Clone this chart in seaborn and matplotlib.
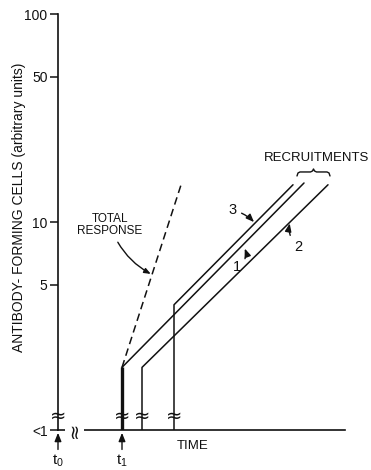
import numpy as np
import pandas as pd
import matplotlib
matplotlib.use("Agg")
import matplotlib.pyplot as plt
from matplotlib.ticker import NullLocator
import seaborn as sns

# --- data (time in arbitrary units, cells in arbitrary units) ---
t_zero = 0.0
t_one = 6.4
clones = ["1", "2", "3"]
clone_start_time = [6.4, 8.4, 11.6]
clone_start_level = [2.0, 2.0, 4.0]
clone_end_time = [24.6, 27.0, 23.5]
clone_end_level = [15.4, 15.1, 15.1]
total_time = [6.4, 12.4]
total_level = [2.0, 15.6]
baseline = 1.0
ytick_values = [1, 5, 10, 50, 100]
ytick_labels = ["<1", "5", "10", "50", "100"]

rows = []
for name, ts, ys, te, ye in zip(clones, clone_start_time, clone_start_level,
                                clone_end_time, clone_end_level):
    rows += [(name, ts, baseline), (name, ts, ys), (name, te, ye)]
clone_df = pd.DataFrame(rows, columns=["clone", "time", "cells"])
total_df = pd.DataFrame({"time": total_time, "cells": total_level})

sns.set_style("ticks")
plt.rcParams["font.family"] = ["Liberation Sans", "DejaVu Sans"]
plt.rcParams["mathtext.default"] = "regular"

fig = plt.figure(figsize=(3.71, 4.70), dpi=100)
ax = fig.add_axes([58 / 371, 40 / 470, 287 / 371, 416 / 470])

ink = "#111111"
sns.lineplot(data=clone_df, x="time", y="cells", units="clone", estimator=None,
             sort=False, color=ink, lw=1.1, ax=ax)
sns.lineplot(data=total_df, x="time", y="cells", sort=False, color=ink, lw=1.1,
             linestyle=(0, (5, 3)), ax=ax)
# the onset at t1 is drawn as a heavier double stroke
ax.plot([t_one, t_one], [baseline, clone_start_level[0]], color=ink, lw=2.4,
        solid_capstyle="butt")

ax.set_yscale("log")
ax.set_ylim(1, 100)
ax.set_xlim(0, 28.7)
ax.set_yticks(ytick_values)
ax.set_yticklabels(ytick_labels)
ax.yaxis.set_minor_locator(NullLocator())
ax.set_xticks([])
ax.tick_params(axis="y", direction="out", length=6, width=1.1, pad=1.5,
               labelsize=10, colors=ink)
for side in ("top", "right"):
    ax.spines[side].set_visible(False)
for side in ("left", "bottom"):
    ax.spines[side].set_linewidth(1.2)
    ax.spines[side].set_color(ink)

ax.set_ylabel("ANTIBODY- FORMING CELLS (arbitrary units)", fontsize=10, color=ink)
ax.yaxis.set_label_coords(-0.11, 0.536)
ax.set_xlabel("TIME", fontsize=9.5, color=ink)
ax.xaxis.set_label_coords(0.47, -0.025)

# axis breaks
break_level = 1.16
for t in [t_zero] + clone_start_time:
    ax.text(t, break_level, "≈", ha="center", va="center", fontsize=14,
            color=ink, family="DejaVu Sans")
ax.text(1.65, baseline, "≈", ha="center", va="center", fontsize=14, rotation=90,
        color=ink, family="DejaVu Sans",
        bbox=dict(facecolor="white", edgecolor="none", pad=0.0), zorder=5)

# time markers below the axis
for t, lab in [(t_zero, r"t$_0$"), (t_one, r"t$_1$")]:
    ax.annotate("", xy=(t, baseline), xytext=(0, -14), textcoords="offset points",
                xycoords="data", annotation_clip=False,
                arrowprops=dict(arrowstyle="-|>,head_length=0.5,head_width=0.2",
                                color=ink, lw=1.0, shrinkA=0, shrinkB=2))
    ax.annotate(lab, xy=(t, baseline), xytext=(0, -16), textcoords="offset points",
                ha="center", va="top", fontsize=11, color=ink,
                annotation_clip=False)

arrow = dict(arrowstyle="-|>,head_length=0.45,head_width=0.18", color=ink, lw=1.0,
             shrinkA=1, shrinkB=1)


def on_line(t0, y0, t1, y1, t):
    f = (t - t0) / (t1 - t0)
    return 10 ** (np.log10(y0) + f * (np.log10(y1) - np.log10(y0)))


# total response label
tt = 9.4
ax.annotate("TOTAL\nRESPONSE", xy=(tt, on_line(total_time[0], total_level[0],
                                                total_time[1], total_level[1], tt)),
            xytext=(5.2, 9.7), ha="center", va="center", fontsize=8.5,
            linespacing=0.95, color=ink,
            arrowprops=dict(arrow, connectionstyle="arc3,rad=0.2", shrinkA=2))

# clone labels
label_pos = {"1": (17.9, 6.1), "2": (24.0, 7.6), "3": (17.5, 11.4)}
label_at = {"1": 18.5, "2": 23.2, "3": 19.7}
label_rad = {"1": 0.5, "2": -0.3, "3": -0.15}
for i, name in enumerate(clones):
    t = label_at[name]
    yv = on_line(clone_start_time[i], clone_start_level[i],
                 clone_end_time[i], clone_end_level[i], t)
    ax.annotate(name, xy=(t, yv), xytext=label_pos[name], ha="center",
                va="center", fontsize=10.5, color=ink,
                arrowprops=dict(arrow, connectionstyle=f"arc3,rad={label_rad[name]}",
                                shrinkB=3 if name == "1" else 1))

# recruitments brace over the later clones' ends
ax.text(25.9, 20.3, "RECRUITMENTS", ha="center", va="center", fontsize=9.5, color=ink)
fig.canvas.draw()
bx0 = ax.transData.transform((23.9, 17.4))
bx1 = ax.transData.transform((27.2, 17.4))
xa, xb, yb = bx0[0], bx1[0], bx0[1]
xm = 0.5 * (xa + xb)
pts = [(xa, yb - 4), (xa + 1, yb - 1), (xa + 3, yb), (xm - 3, yb), (xm - 1, yb + 1),
       (xm, yb + 3), (xm + 1, yb + 1), (xm + 3, yb), (xb - 3, yb), (xb - 1, yb - 1),
       (xb, yb - 4)]
brace = ax.transData.inverted().transform(np.array(pts))
ax.plot(brace[:, 0], brace[:, 1], color=ink, lw=1.0, clip_on=False)

fig.savefig("out.png", dpi=100, facecolor="white")
